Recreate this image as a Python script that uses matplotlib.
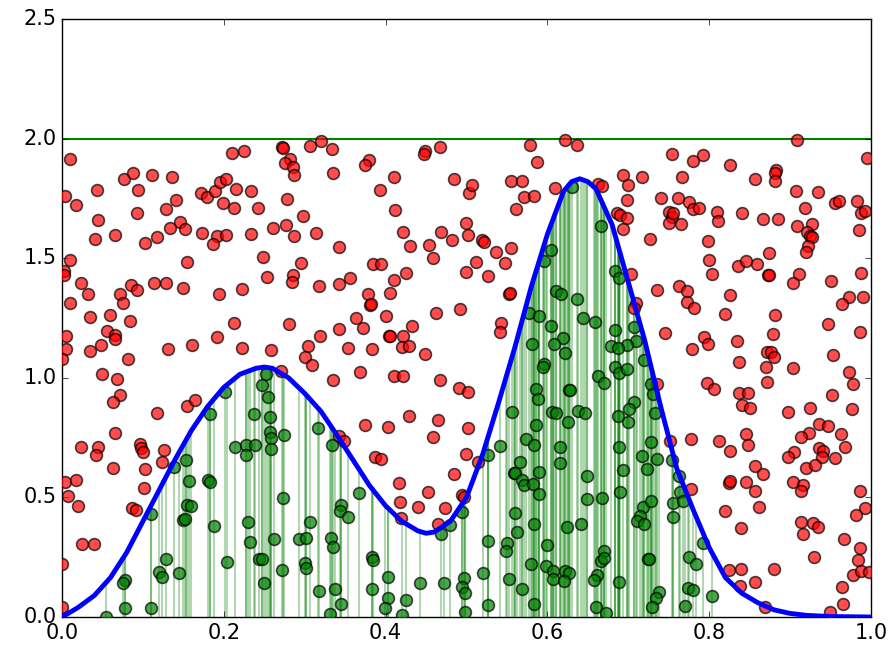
import numpy as np
import matplotlib
matplotlib.use("Agg")
import matplotlib.pyplot as plt

plt.style.use('classic')

# target density (blue curve)
curve_x = [0.0, 0.02, 0.04, 0.06, 0.08, 0.10, 0.12, 0.14, 0.16, 0.18, 0.20, 0.22, 0.24,
           0.25, 0.26, 0.28, 0.30, 0.32, 0.34, 0.36, 0.38, 0.40, 0.42, 0.44, 0.45, 0.46,
           0.48, 0.50, 0.52, 0.54, 0.56, 0.58, 0.60, 0.62, 0.63, 0.64, 0.65, 0.66, 0.68,
           0.70, 0.72, 0.74, 0.76, 0.78, 0.80, 0.82, 0.84, 0.86, 0.88, 0.90, 0.92, 0.95, 1.0]
curve_y = [0.0, 0.04, 0.09, 0.165, 0.27, 0.40, 0.53, 0.66, 0.78, 0.88, 0.96, 1.015, 1.04,
           1.045, 1.04, 1.00, 0.935, 0.86, 0.76, 0.655, 0.55, 0.465, 0.40, 0.36, 0.35, 0.355,
           0.40, 0.50, 0.68, 0.90, 1.13, 1.38, 1.60, 1.78, 1.82, 1.832, 1.82, 1.79, 1.64,
           1.40, 1.16, 0.88, 0.62, 0.45, 0.29, 0.165, 0.10, 0.06, 0.03, 0.015, 0.007, 0.002, 0.0]

# rejected samples (red)
rej_x = [0.010, 0.210, 0.225, 0.077, 0.088, 0.111, 0.136, 0.043, 0.094, 0.004, 0.017, 0.172,
         0.179, 0.189, 0.195, 0.203, 0.215, 0.234, 0.199, 0.213, 0.242, 0.141, 0.129, 0.093,
         0.044, 0.146, 0.152, 0.133, 0.117, 0.102, 0.066, 0.041, 0.173, 0.191, 0.187, 0.203,
         0.234, 0.249, 0.010, 0.155, 0.002, 0.003, 0.024, 0.032, 0.072, 0.085, 0.093, 0.114,
         0.129, 0.149, 0.194, 0.223, 0.254,
         0.272, 0.273, 0.307, 0.320, 0.334, 0.282, 0.276, 0.286, 0.287, 0.335, 0.379, 0.374,
         0.449, 0.447, 0.467, 0.411, 0.485, 0.393, 0.278, 0.412, 0.298, 0.277, 0.261, 0.287,
         0.314, 0.342, 0.421, 0.430, 0.454, 0.469, 0.482, 0.459, 0.500, 0.502, 0.503, 0.296,
         0.285, 0.284, 0.318, 0.342, 0.356, 0.385, 0.394, 0.411, 0.425, 0.378, 0.405, 0.500,
         0.578, 0.622, 0.637, 0.587, 0.754, 0.507, 0.555, 0.569, 0.571, 0.583, 0.561, 0.609,
         0.663, 0.667, 0.694, 0.700, 0.717, 0.699, 0.740, 0.686, 0.690, 0.699, 0.694, 0.750,
         0.754, 0.750, 0.755, 0.727, 0.519, 0.522, 0.536, 0.555, 0.512, 0.547, 0.527, 0.552,
         0.554, 0.703, 0.736,
         0.909, 0.780, 0.792, 0.826, 0.766, 0.856, 0.883, 0.881, 0.881, 0.995, 0.762, 0.775,
         0.780, 0.788, 0.765, 0.810, 0.811, 0.841, 0.866, 0.885, 0.907, 0.935, 0.919, 0.908,
         0.927, 0.921, 0.925, 0.927, 0.922, 0.920, 0.956, 0.960, 0.983, 0.988, 0.993, 0.985,
         0.798, 0.800, 0.803, 0.836, 0.845, 0.859, 0.874, 0.873, 0.874, 0.911, 0.903, 0.951,
         0.988, 0.763, 0.772, 0.826, 0.973, 0.990,
         0.010, 0.076, 0.034, 0.059, 0.084, 0.056, 0.065, 0.066, 0.005, 0.005, 0.000, 0.035,
         0.048, 0.082, 0.131, 0.161, 0.192, 0.212, 0.222, 0.049, 0.068, 0.072, 0.063, 0.117,
         0.155, 0.164, 0.066, 0.023, 0.044, 0.042, 0.096, 0.098, 0.100, 0.126, 0.124,
         0.381, 0.382, 0.281, 0.319, 0.343, 0.364, 0.372, 0.401, 0.404, 0.405, 0.421, 0.433,
         0.462, 0.492, 0.258, 0.304, 0.300, 0.309, 0.353, 0.383, 0.420, 0.429, 0.449, 0.271,
         0.335, 0.368, 0.410, 0.421, 0.467, 0.491, 0.502, 0.375, 0.403, 0.429, 0.465, 0.459,
         0.502, 0.499, 0.343, 0.349, 0.387, 0.394,
         0.543, 0.541, 0.514, 0.710, 0.707, 0.745, 0.735, 0.752,
         0.772, 0.781, 0.964, 0.820, 0.881, 0.947, 0.987, 0.879, 0.794, 0.798, 0.779, 0.834,
         0.871, 0.876, 0.880, 0.837, 0.870, 0.903, 0.953, 0.973, 0.978, 0.871, 0.797, 0.806,
         0.837, 0.848, 0.840, 0.850, 0.898, 0.925, 0.952, 0.976, 0.936, 0.947, 0.963, 0.968,
         0.923, 0.913, 0.845, 0.848, 0.812, 0.778, 0.826, 0.905, 0.898, 0.936, 0.941, 0.940,
         0.955,
         0.063, 0.102, 0.004, 0.017, 0.007, 0.020, 0.101, 0.087, 0.091, 0.025, 0.040, 0.000,
         0.000,
         0.484, 0.417, 0.453, 0.418, 0.440, 0.474, 0.494, 0.497, 0.419, 0.465,
         0.777, 0.857, 0.867, 0.920, 0.931, 0.824, 0.826, 0.846, 0.857, 0.903, 0.916, 0.914,
         0.987, 0.819, 0.862, 0.993, 0.982, 0.839, 0.913, 0.928, 0.934, 0.916, 0.967, 0.987,
         0.929, 0.984, 0.978, 0.988, 0.998, 0.825, 0.839, 0.880, 0.856, 0.838, 0.964, 0.965,
         0.949, 0.869]
rej_y = [1.913, 1.938, 1.948, 1.831, 1.855, 1.849, 1.841, 1.785, 1.785, 1.761, 1.721, 1.774,
         1.757, 1.782, 1.820, 1.832, 1.788, 1.782, 1.732, 1.710, 1.710, 1.745, 1.704, 1.689,
         1.660, 1.651, 1.623, 1.628, 1.589, 1.565, 1.598, 1.579, 1.607, 1.593, 1.559, 1.598,
         1.603, 1.506, 1.494, 1.485, 1.448, 1.431, 1.396, 1.352, 1.349, 1.388, 1.368, 1.395,
         1.395, 1.377, 1.352, 1.373, 1.423,
         1.966, 1.960, 1.970, 1.991, 1.957, 1.916, 1.897, 1.880, 1.848, 1.855, 1.912, 1.888,
         1.949, 1.934, 1.963, 1.839, 1.831, 1.784, 1.747, 1.702, 1.678, 1.639, 1.628, 1.593,
         1.604, 1.548, 1.608, 1.550, 1.555, 1.611, 1.576, 1.500, 1.648, 1.598, 1.771, 1.478,
         1.430, 1.402, 1.384, 1.393, 1.419, 1.474, 1.476, 1.409, 1.437, 1.349, 1.353, 1.442,
         1.975, 1.994, 1.975, 1.901, 1.936, 1.806, 1.824, 1.824, 1.757, 1.761, 1.706, 1.792,
         1.810, 1.802, 1.848, 1.806, 1.839, 1.745, 1.752, 1.688, 1.681, 1.667, 1.621, 1.693,
         1.671, 1.648, 1.688, 1.582, 1.576, 1.569, 1.525, 1.544, 1.483, 1.478, 1.426, 1.350,
         1.353, 1.434, 1.367,
         1.994, 1.906, 1.931, 1.888, 1.838, 1.830, 1.869, 1.858, 1.824, 1.919, 1.750, 1.734,
         1.704, 1.709, 1.643, 1.693, 1.656, 1.690, 1.665, 1.663, 1.782, 1.778, 1.710, 1.633,
         1.641, 1.608, 1.593, 1.590, 1.552, 1.526, 1.729, 1.741, 1.741, 1.690, 1.699, 1.616,
         1.573, 1.491, 1.433, 1.466, 1.487, 1.476, 1.522, 1.430, 1.428, 1.434, 1.396, 1.405,
         1.440, 1.385, 1.362, 1.345, 1.339, 1.337,
         1.311, 1.311, 1.255, 1.263, 1.237, 1.196, 1.179, 1.161, 1.175, 1.122, 1.077, 1.112,
         1.137, 1.077, 1.120, 1.137, 1.169, 1.228, 1.126, 1.015, 0.995, 0.928, 0.898, 0.851,
         0.883, 0.907, 0.768, 0.709, 0.709, 0.677, 0.722, 0.708, 0.691, 0.698, 0.649,
         1.304, 1.310, 1.224, 1.175, 1.204, 1.251, 1.208, 1.260, 1.173, 1.175, 1.175, 1.217,
         1.272, 1.286, 1.116, 1.134, 1.088, 1.054, 1.126, 1.120, 1.130, 1.133, 1.099, 1.028,
         0.991, 1.026, 1.009, 1.008, 0.991, 0.959, 0.942, 0.803, 0.796, 0.842, 0.824, 0.754,
         0.789, 0.680, 0.758, 0.737, 0.668, 0.659,
         1.230, 1.190, 0.649, 1.311, 1.290, 1.189, 0.974, 0.737,
         1.318, 1.290, 1.307, 1.265, 1.263, 1.224, 1.190, 1.185, 1.172, 1.140, 1.120, 1.154,
         1.109, 1.106, 1.088, 1.067, 1.047, 1.040, 1.094, 1.023, 0.974, 0.982, 0.977, 0.952,
         0.936, 0.938, 0.886, 0.872, 0.856, 0.872, 0.928, 0.870, 0.808, 0.797, 0.764, 0.709,
         0.768, 0.754, 0.765, 0.719, 0.736, 0.743, 0.694, 0.689, 0.670, 0.708, 0.694, 0.670,
         0.663,
         0.622, 0.617, 0.563, 0.573, 0.506, 0.464, 0.541, 0.457, 0.447, 0.305, 0.305, 0.220,
         0.043,
         0.598, 0.559, 0.524, 0.480, 0.461, 0.457, 0.510, 0.500, 0.413, 0.389,
         0.534, 0.631, 0.597, 0.622, 0.635, 0.559, 0.570, 0.563, 0.527, 0.566, 0.552, 0.527,
         0.528, 0.444, 0.461, 0.454, 0.426, 0.374, 0.396, 0.392, 0.375, 0.347, 0.326, 0.287,
         0.252, 0.238, 0.176, 0.192, 0.189, 0.196, 0.202, 0.199, 0.148, 0.130, 0.127, 0.053,
         0.020, 0.043]

# accepted samples (green)
acc_x = [0.631, 0.666, 0.605, 0.596, 0.684, 0.689, 0.611, 0.617, 0.637,
         0.201, 0.183, 0.237, 0.247, 0.214, 0.228, 0.239, 0.228, 0.153,
         0.252, 0.255, 0.257, 0.257, 0.258, 0.274, 0.258, 0.316, 0.334,
         0.577, 0.590, 0.604, 0.644, 0.659, 0.683, 0.707, 0.710, 0.698, 0.678, 0.687, 0.619,
         0.608, 0.581, 0.622, 0.596, 0.594, 0.684, 0.688, 0.699, 0.719, 0.663, 0.670, 0.586,
         0.588, 0.627, 0.628, 0.728, 0.731, 0.707, 0.701, 0.733, 0.556, 0.606, 0.611, 0.638,
         0.647, 0.626, 0.687, 0.700, 0.586, 0.574, 0.583, 0.541, 0.615, 0.689, 0.728, 0.527,
         0.717, 0.736, 0.566, 0.616, 0.754,
         0.139, 0.157, 0.180, 0.183, 0.154, 0.159, 0.110, 0.149, 0.152, 0.188, 0.230, 0.232,
         0.129, 0.204, 0.243, 0.247, 0.120, 0.124, 0.145, 0.078, 0.076, 0.250, 0.078, 0.110,
         0.054,
         0.273, 0.367, 0.345, 0.344, 0.353, 0.307, 0.262, 0.293, 0.302, 0.333, 0.335, 0.480,
         0.469, 0.495, 0.300, 0.302, 0.272, 0.383, 0.384, 0.318, 0.337, 0.383, 0.403, 0.403,
         0.399, 0.425, 0.443, 0.472, 0.345, 0.331, 0.420, 0.497, 0.494, 0.498, 0.498,
         0.559, 0.560, 0.590, 0.568, 0.571, 0.582, 0.590, 0.649, 0.694, 0.723, 0.649, 0.668,
         0.690, 0.560, 0.584, 0.624, 0.641, 0.718, 0.728, 0.714, 0.711, 0.719, 0.563, 0.526,
         0.550, 0.549, 0.599, 0.670, 0.666, 0.670, 0.724, 0.725, 0.580, 0.598, 0.607, 0.607,
         0.622, 0.627, 0.621, 0.521, 0.553, 0.569, 0.583, 0.526, 0.661, 0.658, 0.688, 0.738,
         0.734, 0.729, 0.660, 0.672,
         0.763, 0.755, 0.755, 0.764, 0.767, 0.792, 0.775, 0.784, 0.774, 0.780, 0.803, 0.770]
acc_y = [1.796, 1.636, 1.534, 1.490, 1.448, 1.419, 1.363, 1.350, 1.331,
         0.942, 0.849, 0.849, 0.970, 0.709, 0.719, 0.719, 0.677, 0.656,
         1.015, 0.921, 0.835, 0.772, 0.750, 0.761, 0.702, 0.792, 0.719,
         1.270, 1.258, 1.217, 1.251, 1.232, 1.200, 1.211, 1.155, 1.137, 1.133, 1.123, 1.165,
         1.140, 1.141, 1.105, 1.058, 1.044, 1.047, 1.019, 1.037, 1.074, 1.008, 0.977, 0.952,
         0.911, 0.949, 0.947, 0.974, 0.932, 0.900, 0.870, 0.852, 0.858, 0.858, 0.854, 0.861,
         0.852, 0.817, 0.842, 0.814, 0.803, 0.744, 0.719, 0.716, 0.709, 0.709, 0.733, 0.677,
         0.674, 0.661, 0.647, 0.643, 0.656,
         0.626, 0.570, 0.573, 0.563, 0.468, 0.464, 0.431, 0.406, 0.410, 0.380, 0.397, 0.315,
         0.241, 0.231, 0.241, 0.241, 0.189, 0.168, 0.183, 0.155, 0.143, 0.141, 0.036, 0.039,
         0.001,
         0.499, 0.517, 0.468, 0.443, 0.419, 0.396, 0.325, 0.326, 0.329, 0.332, 0.291, 0.385,
         0.347, 0.440, 0.224, 0.204, 0.196, 0.252, 0.238, 0.109, 0.116, 0.116, 0.168, 0.078,
         0.039, 0.071, 0.143, 0.143, 0.053, 0.011, 0.008, 0.162, 0.127, 0.099, 0.022,
         0.603, 0.600, 0.605, 0.573, 0.552, 0.556, 0.514, 0.591, 0.615, 0.619, 0.492, 0.499,
         0.521, 0.436, 0.388, 0.378, 0.388, 0.461, 0.486, 0.422, 0.401, 0.389, 0.357, 0.318,
         0.308, 0.276, 0.301, 0.277, 0.235, 0.245, 0.241, 0.243, 0.222, 0.213, 0.194, 0.159,
         0.194, 0.185, 0.152, 0.183, 0.158, 0.116, 0.053, 0.050, 0.176, 0.155, 0.148, 0.103,
         0.081, 0.042, 0.043, 0.018,
         0.589, 0.475, 0.419, 0.524, 0.486, 0.308, 0.252, 0.220, 0.120, 0.113, 0.088, 0.046]

envelope = 2.0

fig = plt.figure(figsize=(8.95, 6.51), facecolor='white')
ax = fig.add_axes([62 / 895, 34 / 651, 809 / 895, 598 / 651])

# vertical lines under the density at accepted samples
heights = np.interp(acc_x, curve_x, curve_y)
ax.vlines(acc_x, 0, heights, color='green', alpha=0.3, linewidth=1.5, zorder=1)

ax.scatter(rej_x, rej_y, s=72, c='red', edgecolors='k', linewidths=1.2, alpha=0.7, zorder=3)
ax.scatter(acc_x, acc_y, s=72, c='green', edgecolors='k', linewidths=1.2, alpha=0.7, zorder=3)

ax.axhline(envelope, color='green', linewidth=1.5, zorder=2)
ax.plot(curve_x, curve_y, color='blue', linewidth=3.5, zorder=4,
        solid_joinstyle='round')

ax.set_xlim(0, 1)
ax.set_ylim(0, 2.5)
ax.tick_params(labelsize=15)

fig.savefig('out.png', dpi=100, facecolor='white')
